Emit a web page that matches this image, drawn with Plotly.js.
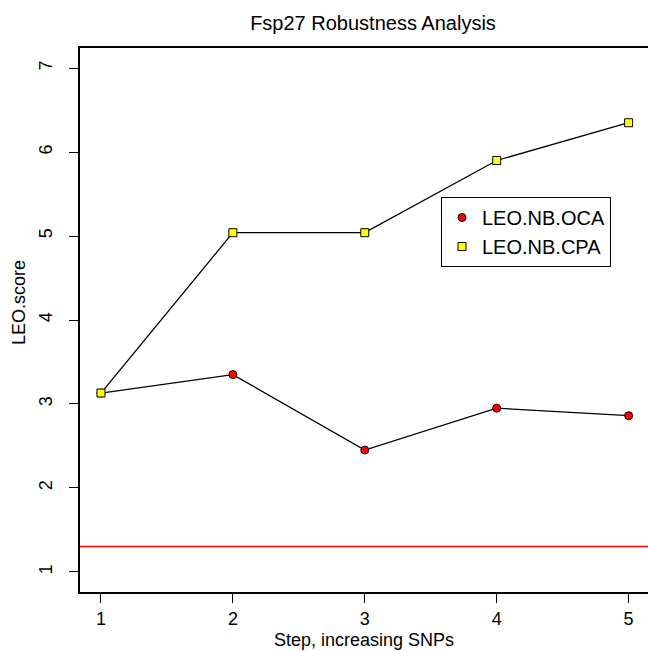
<!DOCTYPE html>
<html>
<head>
<meta charset="utf-8">
<script src="https://cdn.plot.ly/plotly-3.0.1.min.js"></script>
<style>
html,body{margin:0;padding:0;overflow:hidden;background:#fff;}
#chart{width:648px;height:651px;}
</style>
</head>
<body>
<div id="chart"></div>
<script>
const steps = [1, 2, 3, 4, 5];
const ocaScores = [3.13, 3.35, 2.45, 2.95, 2.86];
const cpaScores = [3.13, 5.04, 5.04, 5.90, 6.35];
const seriesNames = ['LEO.NB.OCA', 'LEO.NB.CPA'];
const threshold = 1.301;
const xTicks = [1, 2, 3, 4, 5];
const yTicks = [1, 2, 3, 4, 5, 6, 7];

const FONT = 'Liberation Sans, Arial, Helvetica, sans-serif';

const traces = [
  {x: steps, y: ocaScores, mode: 'lines', line: {color: '#000', width: 1.3}, showlegend: false, hoverinfo: 'skip'},
  {x: steps, y: cpaScores, mode: 'lines', line: {color: '#000', width: 1.3}, showlegend: false, hoverinfo: 'skip'},
  {x: steps, y: ocaScores, mode: 'markers', name: seriesNames[0],
   marker: {symbol: 'circle', size: 8, color: '#ff0000', line: {color: '#000', width: 1}}},
  {x: steps, y: cpaScores, mode: 'markers', name: seriesNames[1],
   marker: {symbol: 'square', size: 8, color: '#ffff00', line: {color: '#000', width: 1}}}
];

const layout = {
  width: 648, height: 651,
  margin: {l: 80, r: 0, t: 48, b: 59, pad: 0},
  paper_bgcolor: '#fff', plot_bgcolor: '#fff',
  font: {family: FONT, color: '#000', size: 18},
  title: {text: 'Fsp27 Robustness Analysis', font: {family: FONT, size: 20, color: '#000'},
          x: 373/648, xref: 'container', xanchor: 'center', y: 1 - 23/651, yref: 'container', yanchor: 'middle'},
  xaxis: {range: [0.841, 5.147], tickmode: 'array', tickvals: xTicks, ticktext: xTicks.map(String),
          showgrid: false, zeroline: false, showline: true, linewidth: 2, linecolor: '#000', mirror: true,
          ticks: 'outside', ticklen: 9, tickwidth: 1, tickcolor: '#000',
          tickfont: {family: FONT, size: 18, color: '#000'},
          title: {text: 'Step, increasing SNPs', font: {family: FONT, size: 18, color: '#000'}, standoff: 6}},
  yaxis: {range: [0.76, 7.24], tickmode: 'array', tickvals: yTicks, ticktext: yTicks.map(String),
          showgrid: false, zeroline: false, showline: true, linewidth: 2, linecolor: '#000', mirror: false,
          ticks: 'outside', ticklen: 9, tickwidth: 1, tickcolor: '#000', tickangle: -90,
          ticklabelstandoff: 10,
          tickfont: {family: FONT, size: 18, color: '#000'}},
  shapes: [{type: 'line', xref: 'paper', x0: 0, x1: 1, yref: 'y', y0: threshold, y1: threshold,
            line: {color: '#ff0000', width: 1.5}}],
  annotations: [{text: 'LEO.score', xref: 'paper', yref: 'paper', x: -61/568, y: (592-303)/544,
                 xanchor: 'center', yanchor: 'middle', textangle: -90, showarrow: false,
                 font: {family: FONT, size: 18, color: '#000'}}],
  legend: {x: (441-80)/568, y: (592-197)/544, xanchor: 'left', yanchor: 'top',
           bgcolor: '#fff', bordercolor: '#000', borderwidth: 1,
           font: {family: FONT, size: 20, color: '#000'}, tracegroupgap: 0}
};

Plotly.newPlot('chart', traces, layout, {displayModeBar: false, staticPlot: true});
</script>
</body>
</html>
